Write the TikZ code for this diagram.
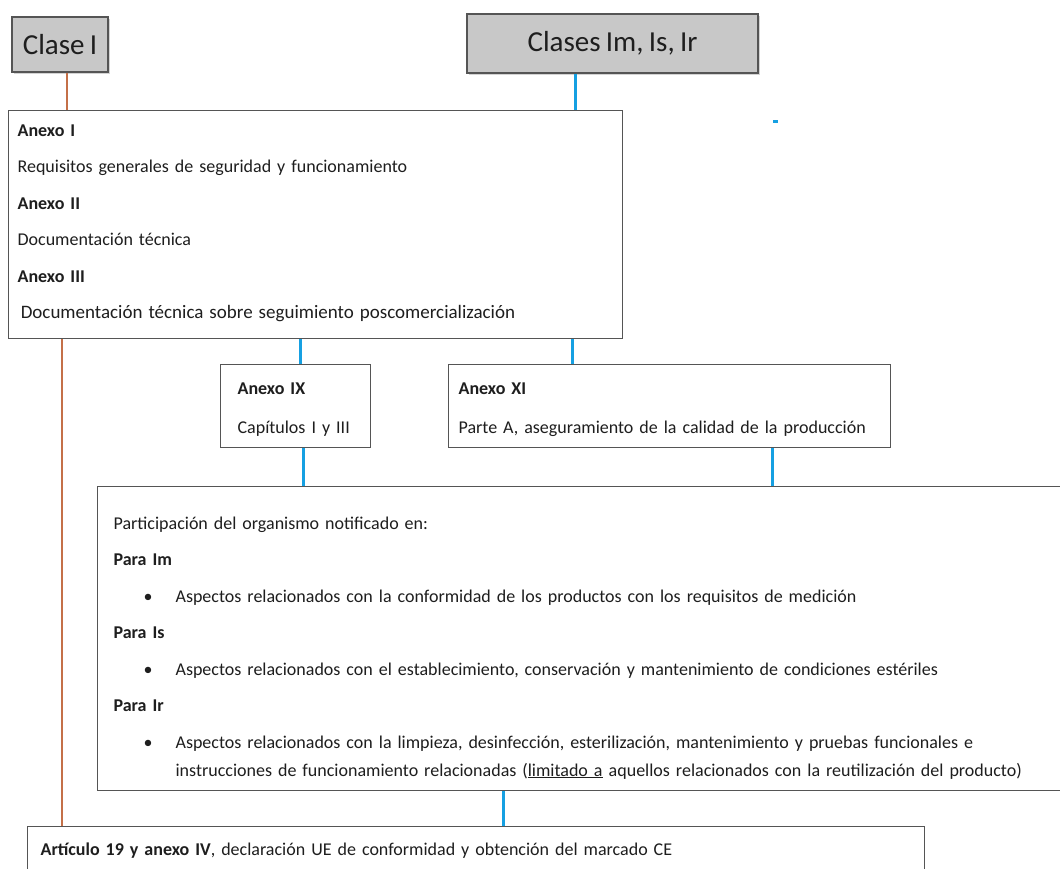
\documentclass[tikz,border=0pt]{standalone}
\usepackage{fontspec}
\setmainfont{Carlito}[WordSpace=0.8]
\usetikzlibrary{shadows}

\definecolor{boxgray}{RGB}{85,85,85}
\definecolor{classgray}{RGB}{200,200,200}
\definecolor{claseline}{RGB}{196,112,72}
\definecolor{classesline}{RGB}{22,160,226}
\definecolor{textgray}{RGB}{30,30,30}

\newcommand{\punto}{\makebox[62pt][l]{\hspace*{30pt}\textbullet}}

\begin{document}
\begin{tikzpicture}
	[x=1pt,y=-1pt,
	every node/.style={text=textgray},
	classbox/.style={draw=boxgray,fill=classgray,line width=1.2pt,inner sep=0pt,
		font=\fontsize{29}{32}\selectfont,
		drop shadow={shadow xshift=1.5pt,shadow yshift=-1.5pt,opacity=.35}},
	panel/.style={draw=boxgray,fill=white,line width=1.2pt,anchor=north west,
		align=left,font=\fontsize{18}{36.5}\selectfont},
	orangeline/.style={draw=claseline,line width=2pt},
	blueline/.style={draw=classesline,line width=3pt}]
	\useasboundingbox (0,0) rectangle (1060,868);
	\clip (0,0) rectangle (1060,868);
	% top classes
	\node[classbox,minimum width=96pt,minimum height=55pt] (claseI) at (60,44.5) {Clase I};
	\node[classbox,minimum width=291pt,minimum height=59pt] (clases) at (612.5,43.5) {Clases Im, Is, Ir};
	% annex boxes
	\node[panel,minimum width=614pt,text width=596pt,inner xsep=9pt,inner ysep=14pt] (anexos) at (8,110)
	{\textbf{Anexo I}\\
	Requisitos generales de seguridad y funcionamiento\\
	\textbf{Anexo II}\\
	Documentación técnica\\
	\textbf{Anexo III}\\
	{\fontsize{19}{36.5}\selectfont\,Documentación técnica sobre seguimiento poscomercialización}\rule[-6pt]{0pt}{6pt}};
	\node[panel,minimum width=150pt,minimum height=83pt,text width=116pt,inner xsep=17pt] (ix) at (220,364)
	{\rule{0pt}{18pt}\textbf{Anexo IX}\\[2.5pt]
	Capítulos I y III};
	\node[panel,minimum width=442pt,minimum height=83pt,text width=422pt,inner xsep=10pt] (xi) at (448,364)
	{\rule{0pt}{18pt}\textbf{Anexo XI}\\[2.5pt]
	Parte A, aseguramiento de la calidad de la producción};
	\node[panel,minimum width=978pt,minimum height=304pt,text width=946pt,inner xsep=16pt] (part) at (97,486)
	{\rule{0pt}{31pt}Participación del organismo notificado en:\\
	\textbf{Para Im}\\
	\punto Aspectos relacionados con la conformidad de los productos con los requisitos de medición\\
	\textbf{Para Is}\\
	\punto Aspectos relacionados con el establecimiento, conservación y mantenimiento de condiciones estériles\\
	\textbf{Para Ir}\\
	\punto Aspectos relacionados con la limpieza, desinfección, esterilización, mantenimiento y pruebas funcionales e\\[-8.5pt]
	\hspace*{62pt}instrucciones de funcionamiento relacionadas (\underline{limitado a} aquellos relacionados con la reutilización del producto)};
	\node[panel,minimum width=897pt,text width=871pt,inner xsep=13pt,inner ysep=16pt] (art) at (27,826)
	{\textbf{Artículo 19 y anexo IV}, declaración UE de conformidad y obtención del marcado CE\\ \mbox{}};
	% connectors
	\draw[orangeline] (claseI.south -| 67,0) -- (anexos.north -| 67,0);
	\draw[orangeline] (anexos.south -| 62,0) -- (art.north -| 62,0);
	\draw[blueline] (clases.south -| 575,0) -- (anexos.north -| 575,0);
	\draw[blueline] (anexos.south -| 300,0) -- (ix.north -| 300,0);
	\draw[blueline] (anexos.south -| 572,0) -- (xi.north -| 572,0);
	\draw[blueline] (ix.south -| 303,0) -- (part.north -| 303,0);
	\draw[blueline] (xi.south -| 772,0) -- (part.north -| 772,0);
	\draw[blueline] (part.south -| 503,0) -- (art.north -| 503,0);
	\fill[classesline] (773,119.5) rectangle (778,122.5);
\end{tikzpicture}
\end{document}
